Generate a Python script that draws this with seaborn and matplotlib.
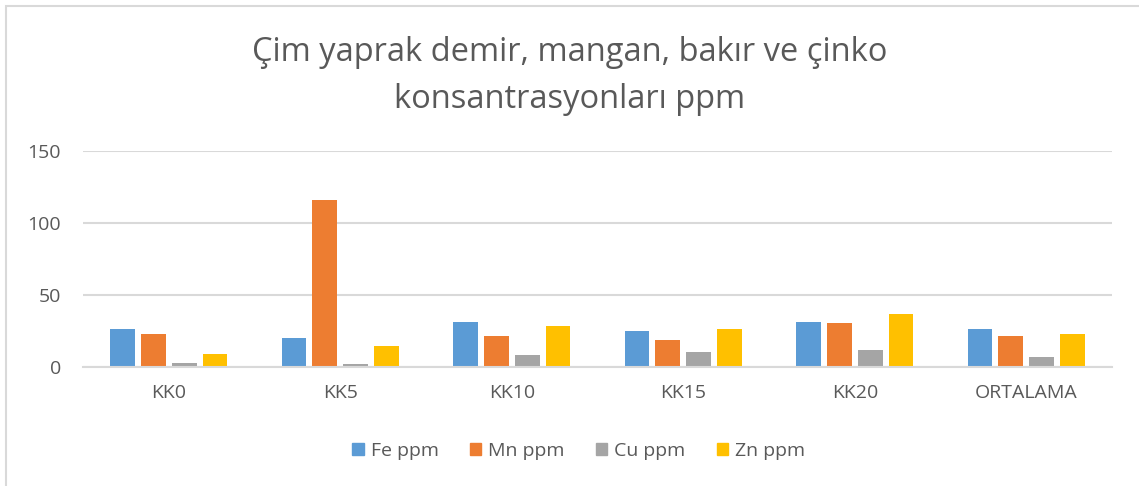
"""Grass leaf Fe, Mn, Cu and Zn concentrations (ppm) - grouped bar chart."""

import matplotlib.pyplot as plt
import pandas as pd
import seaborn as sns
from matplotlib.patches import Rectangle

categories = ["KK0", "KK5", "KK10", "KK15", "KK20", "ORTALAMA"]
fe_ppm = [26.7, 19.8, 31.3, 25.1, 31.3, 26.5]
mn_ppm = [23.2, 116.0, 21.6, 18.8, 30.2, 21.6]
cu_ppm = [3.0, 2.3, 8.4, 10.7, 11.8, 7.0]
zn_ppm = [9.1, 14.9, 28.6, 26.5, 36.5, 23.2]
series_names = ["Fe ppm", "Mn ppm", "Cu ppm", "Zn ppm"]
y_ticks = [0, 50, 100, 150]

colors = ["#5B9BD5", "#ED7D31", "#A5A5A5", "#FFC000"]
text_color = "#595959"
grid_color = "#D9D9D9"

df = pd.DataFrame({"kategori": categories, "Fe ppm": fe_ppm, "Mn ppm": mn_ppm,
                   "Cu ppm": cu_ppm, "Zn ppm": zn_ppm})
long_df = df.melt(id_vars="kategori", value_vars=series_names,
                  var_name="seri", value_name="ppm")

sns.set_theme(style="white")
plt.rcParams["font.family"] = ["Open Sans", "DejaVu Sans"]

fig = plt.figure(figsize=(11.39, 4.86), dpi=100)
ax = fig.add_axes([0.0729, 0.2449, 0.9034, 0.4444])

sns.barplot(data=long_df, x="kategori", y="ppm", hue="seri", order=categories,
            hue_order=series_names, palette=colors, width=0.72, gap=0.2,
            saturation=1, linewidth=0, ax=ax)

ax.set_ylim(0, 150)
ax.set_yticks(y_ticks)
ax.set_xlabel("")
ax.set_ylabel("")
ax.yaxis.grid(True, color=grid_color, linewidth=1.5)
ax.set_axisbelow(True)
for side in ["top", "right", "left"]:
    ax.spines[side].set_visible(False)
ax.spines["bottom"].set_color(grid_color)
ax.spines["bottom"].set_linewidth(1.5)
ax.tick_params(axis="both", length=0, labelcolor=text_color, labelsize=14)
ax.tick_params(axis="y", pad=16)
ax.tick_params(axis="x", pad=12)

ax.get_legend().remove()
handles = [Rectangle((0, 0), 1, 1, color=c) for c in colors]
fig.legend(handles, series_names, loc="center", bbox_to_anchor=(0.508, 0.072),
           ncol=4, frameon=False, fontsize=14, labelcolor=text_color,
           handlelength=0.6, handleheight=0.6, handletextpad=0.35,
           columnspacing=1.6)

fig.text(0.5, 0.893, "Çim yaprak demir, mangan, bakır ve çinko",
         ha="center", va="center", fontsize=23.5, color=text_color)
fig.text(0.5, 0.795, "konsantrasyonları ppm",
         ha="center", va="center", fontsize=23.5, color=text_color)

# chart frame (cut off on the right and bottom in the original)
fig.patches.append(Rectangle((6 / 1139, -0.1), 1.2, 1 - 6 / 486 + 0.1,
                             transform=fig.transFigure, fill=False,
                             edgecolor=grid_color, linewidth=1.5))

fig.savefig("out.png", dpi=100)
plt.close(fig)
